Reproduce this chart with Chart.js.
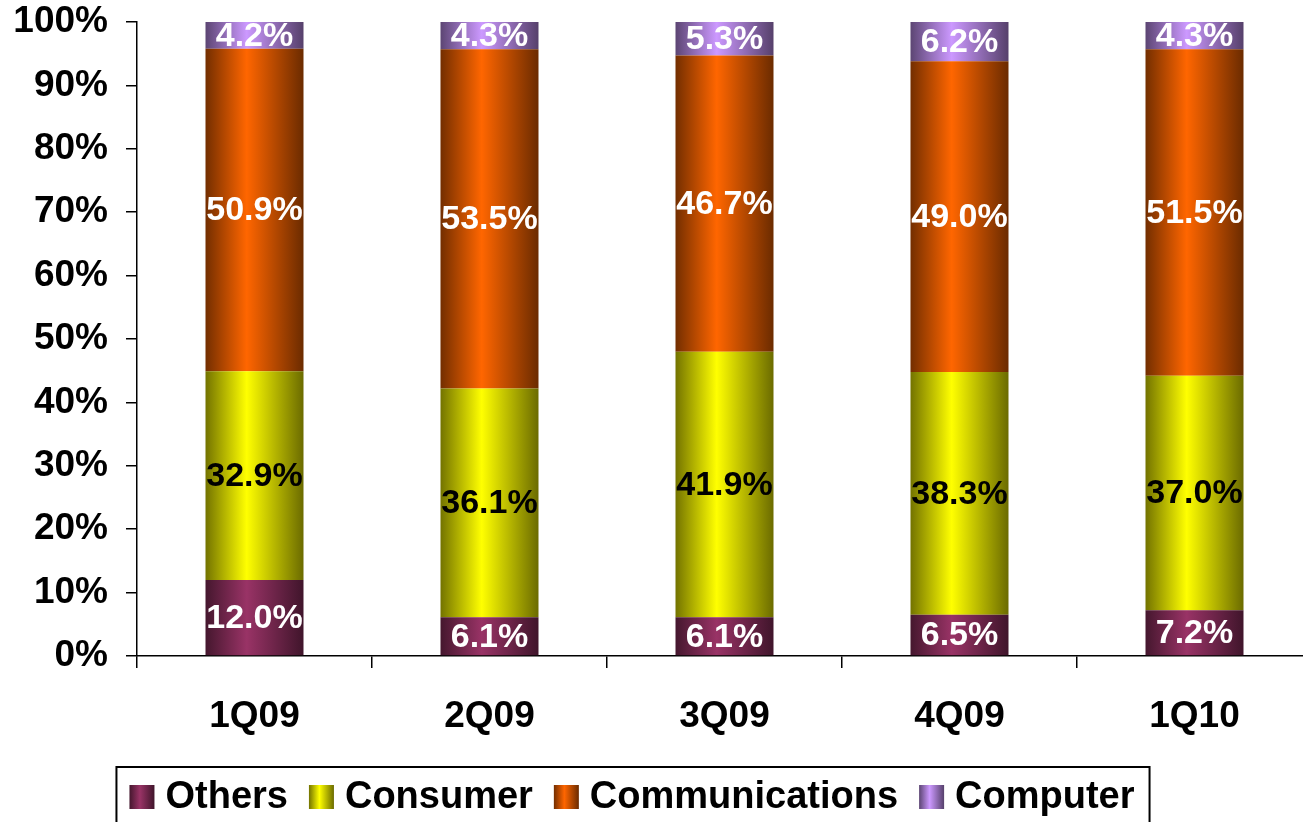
<!DOCTYPE html>
<html><head><meta charset="utf-8">
<script src="https://cdn.jsdelivr.net/npm/chart.js@4/dist/chart.umd.min.js"></script>
<style>
html,body{margin:0;padding:0;overflow:hidden;background:#fff;}
#wrap{width:1312px;height:822px;position:relative;}
canvas{display:block;}
</style></head><body>
<div id="wrap"><canvas id="c" width="1312" height="822"></canvas></div>
<script>
// ---- data ----
const categories = ['1Q09', '2Q09', '3Q09', '4Q09', '1Q10'];
const others = [12.0, 6.1, 6.1, 6.5, 7.2];
const consumer = [32.9, 36.1, 41.9, 38.3, 37.0];
const communications = [50.9, 53.5, 46.7, 49.0, 51.5];
const computer = [4.2, 4.3, 5.3, 6.2, 4.3];
const seriesNames = ['Others', 'Consumer', 'Communications', 'Computer'];
const yTickValues = [0, 10, 20, 30, 40, 50, 60, 70, 80, 90, 100];

// ---- styles ----
const FONT = "'Liberation Sans', Arial, Helvetica, sans-serif";
const baseColors = ['#993366', '#ffff00', '#ff6600', '#cc99ff'];
const labelColors = ['#ffffff', '#000000', '#ffffff', '#ffffff'];
const BAR_PCT = 0.417;

function shade(hex, f) {
  const n = parseInt(hex.slice(1), 16);
  const r = Math.round(((n >> 16) & 255) * f);
  const g = Math.round(((n >> 8) & 255) * f);
  const b = Math.round((n & 255) * f);
  return `rgb(${r},${g},${b})`;
}
function hGradient(ctx, base, x0, x1) {
  const g = ctx.createLinearGradient(x0, 0, x1, 0);
  g.addColorStop(0, shade(base, 0.45));
  g.addColorStop(0.42, base);
  g.addColorStop(1, shade(base, 0.42));
  return g;
}
function barFill(base) {
  return (c) => {
    const chart = c.chart;
    const xs = chart.scales && chart.scales.x;
    if (!xs || c.type !== 'data' || !isFinite(xs.width) || xs.width <= 0) return base;
    const x = xs.getPixelForValue(c.dataIndex);
    const w = (xs.width / categories.length) * BAR_PCT;
    return hGradient(chart.ctx, base, x - w / 2, x + w / 2);
  };
}

const seriesData = [others, consumer, communications, computer];
const datasets = seriesNames.map((name, i) => ({
  label: name,
  data: seriesData[i],
  backgroundColor: barFill(baseColors[i]),
  borderWidth: 0,
  categoryPercentage: 1.0,
  barPercentage: BAR_PCT,
  stack: 's'
}));

// ---- plugins ----
const valueLabels = {
  id: 'valueLabels',
  afterDatasetsDraw(chart) {
    const ctx = chart.ctx;
    ctx.save();
    ctx.font = `bold 34px ${FONT}`;
    ctx.textAlign = 'center';
    ctx.textBaseline = 'middle';
    chart.data.datasets.forEach((ds, di) => {
      const meta = chart.getDatasetMeta(di);
      meta.data.forEach((el, i) => {
        const v = ds.data[i];
        const y = (el.y + el.base) / 2 + 1;
        ctx.fillStyle = labelColors[di];
        ctx.fillText(v.toFixed(1) + '%', el.x, y);
      });
    });
    ctx.restore();
  }
};

const boxLegend = {
  id: 'boxLegend',
  afterDraw(chart) {
    const ctx = chart.ctx;
    ctx.save();
    ctx.font = `bold 38px ${FONT}`;
    const boxW = 25, boxH = 24, gapBT = 11, gapItem = 21;
    const widths = chart.data.datasets.map(d => ctx.measureText(d.label).width);
    let total = 0;
    widths.forEach((w, i) => { total += boxW + gapBT + w + (i < widths.length - 1 ? gapItem : 0); });
    const center = 632;
    let x = center - total / 2;
    const cy = 797;
    const bx0 = x - 13, bx1 = x + total + 15;
    ctx.lineWidth = 2;
    ctx.strokeStyle = '#000';
    ctx.strokeRect(bx0, 767, bx1 - bx0, 70);
    ctx.textAlign = 'left';
    ctx.textBaseline = 'middle';
    chart.data.datasets.forEach((d, i) => {
      ctx.fillStyle = hGradient(ctx, baseColors[i], x, x + boxW);
      ctx.fillRect(x, cy - 12, boxW, boxH);
      x += boxW + gapBT;
      ctx.fillStyle = '#000';
      ctx.fillText(d.label, x, cy + 1);
      x += widths[i] + gapItem;
    });
    ctx.restore();
  }
};

new Chart(document.getElementById('c'), {
  type: 'bar',
  data: { labels: categories, datasets },
  options: {
    responsive: false,
    animation: false,
    devicePixelRatio: 1,
    layout: { padding: { top: 22, left: 0, right: 0, bottom: 56 } },
    plugins: {
      legend: { display: false },
      tooltip: { enabled: false },
      title: { display: false }
    },
    scales: {
      x: {
        stacked: true,
        offset: true,
        afterFit(s) { s.height = 110; s.paddingLeft = 0; s.paddingRight = 0; },
        grid: { display: true, drawOnChartArea: false, drawTicks: true, tickLength: 12, color: '#000', lineWidth: 1.5, offset: true },
        border: { display: true, color: '#000', width: 1.5 },
        ticks: { color: '#000', font: { family: FONT, size: 37, weight: 'bold' }, padding: 27, maxRotation: 0, autoSkip: false }
      },
      y: {
        stacked: true,
        min: 0,
        max: 100,
        afterFit(s) { s.width = 137; s.paddingTop = 0; s.paddingBottom = 0; },
        afterBuildTicks(s) { s.ticks = yTickValues.map(v => ({ value: v })); },
        grid: { display: true, drawOnChartArea: false, drawTicks: true, tickLength: 11, color: '#000', lineWidth: 1.5 },
        border: { display: true, color: '#000', width: 1.5 },
        ticks: { color: '#000', font: { family: FONT, size: 37, weight: 'bold' }, padding: 18, callback: v => v + '%' }
      }
    }
  },
  plugins: [valueLabels, boxLegend]
});
</script>
</body></html>
